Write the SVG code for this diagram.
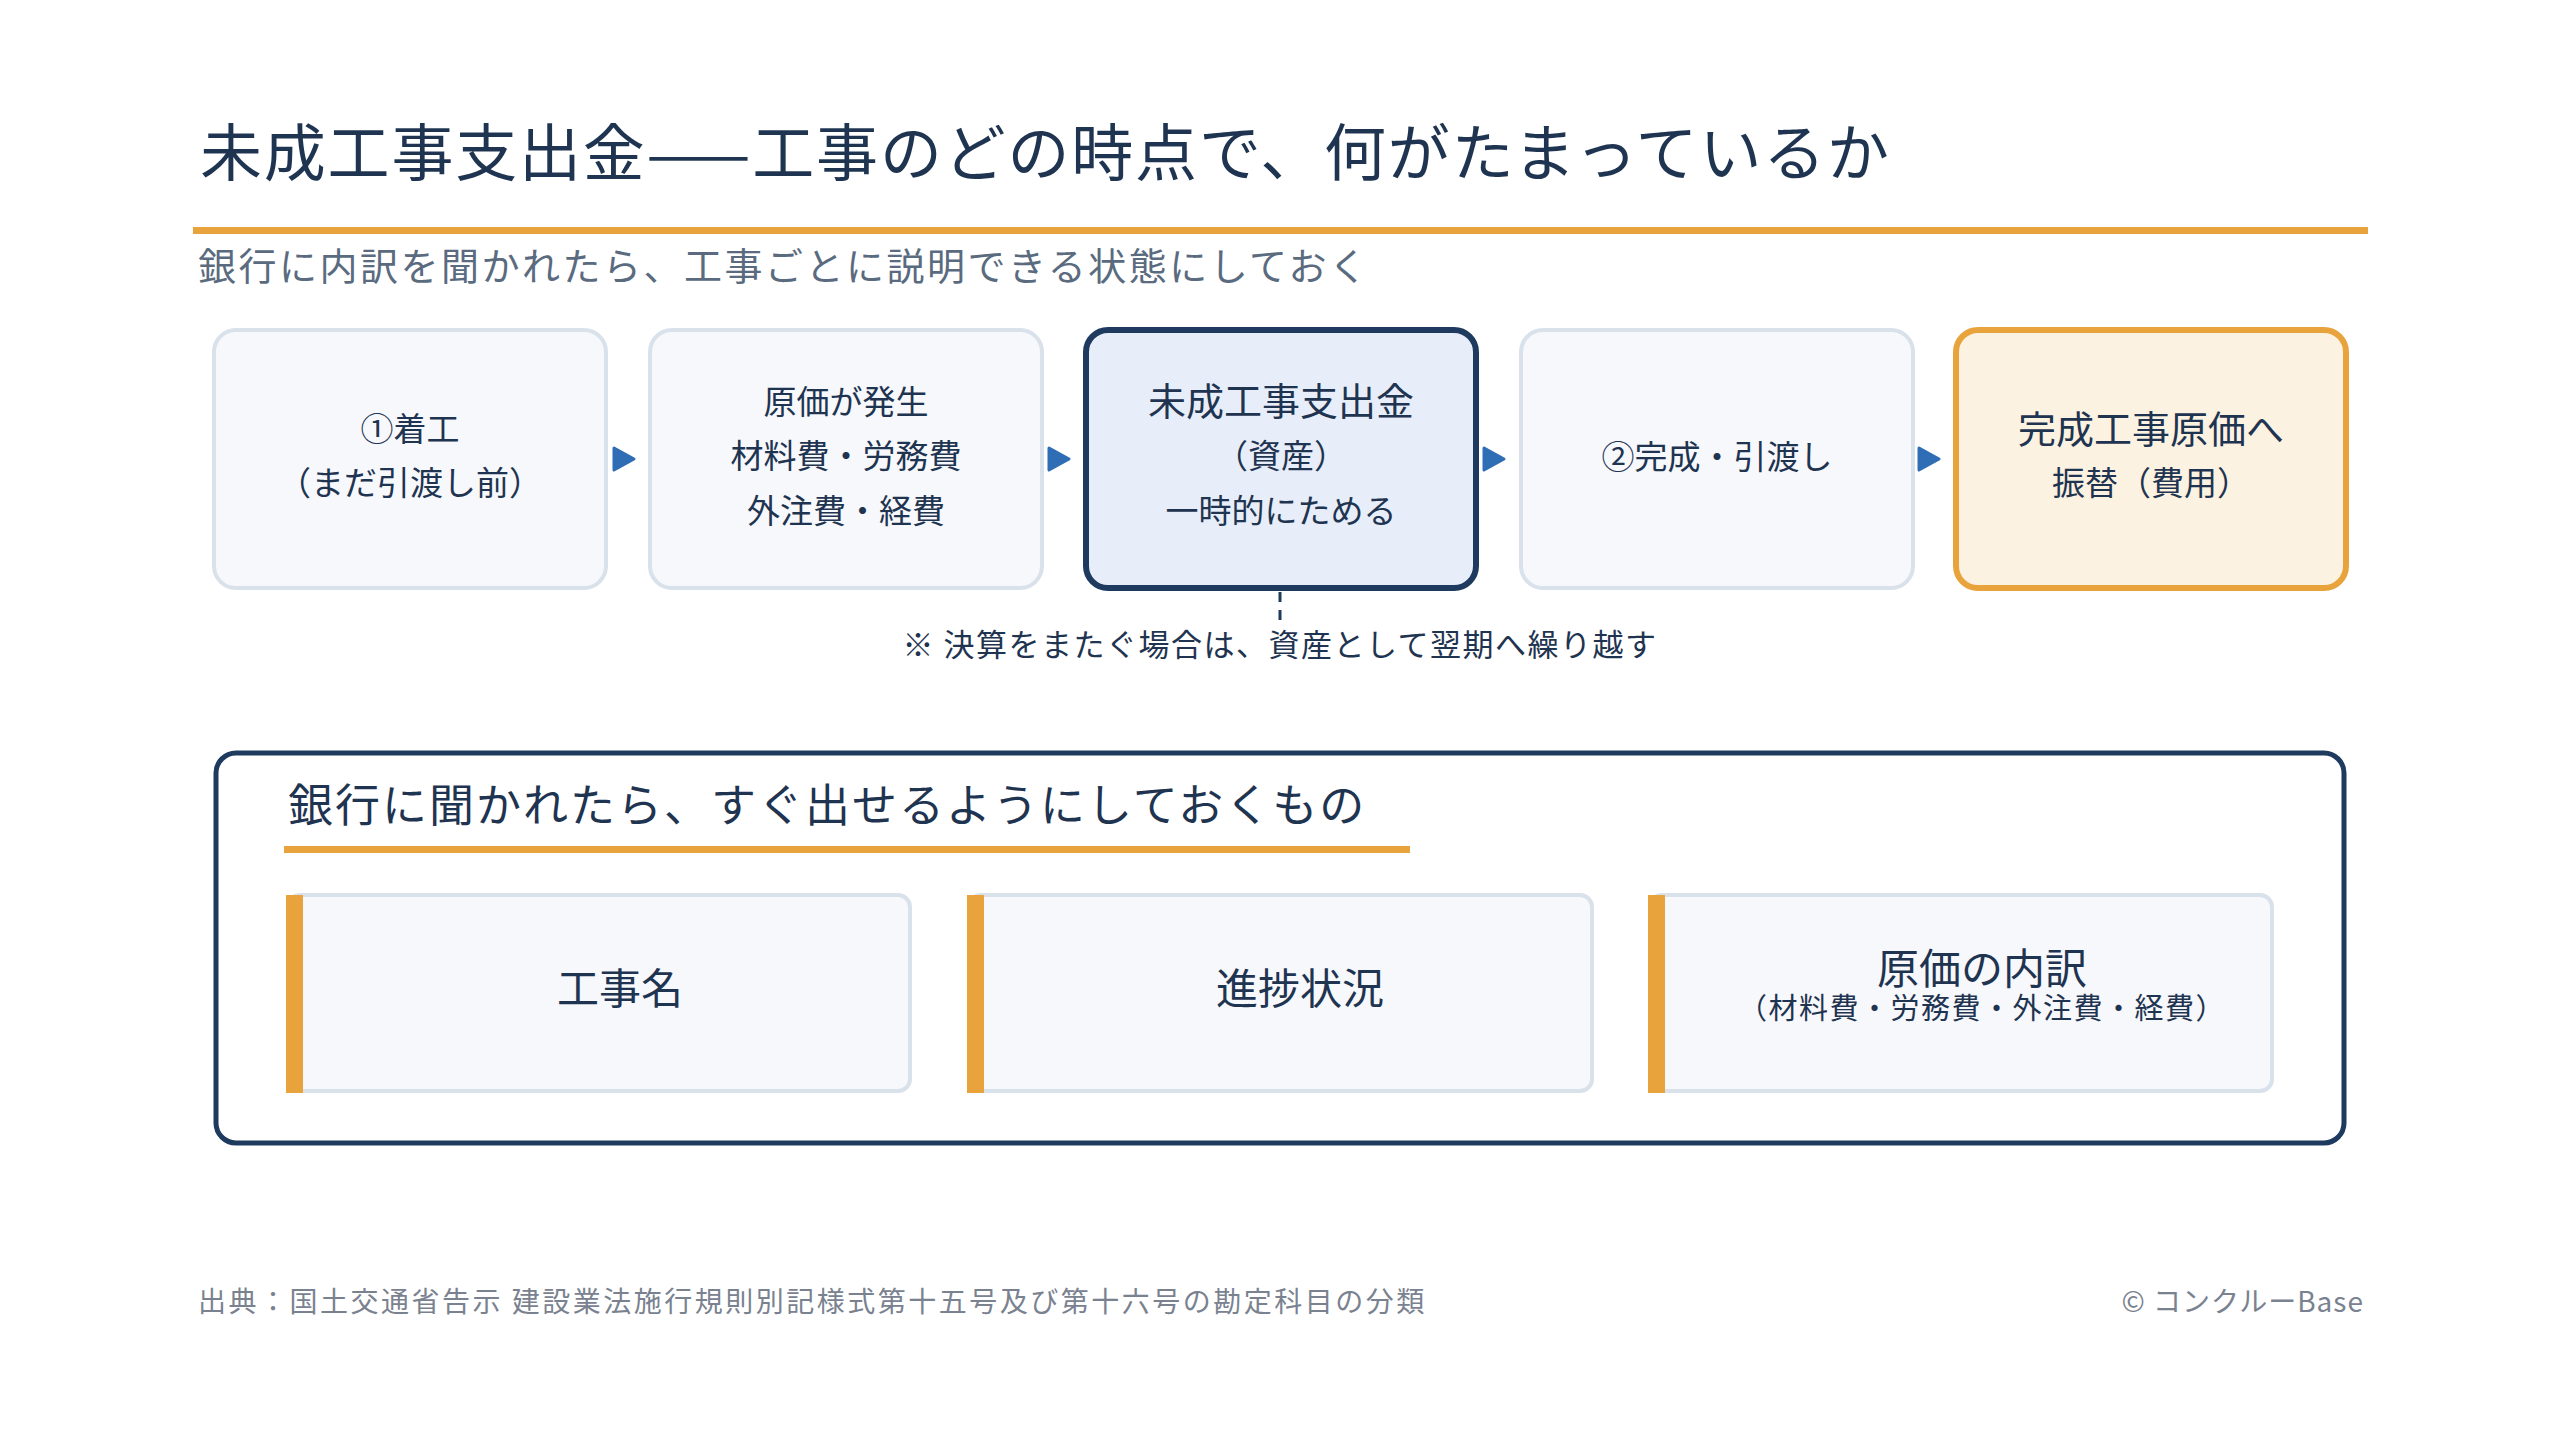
<svg xmlns="http://www.w3.org/2000/svg" width="2560" height="1440" viewBox="0 0 2560 1440">
<style>
text{font-family:"Noto Sans CJK JP","Noto Sans",sans-serif;fill:#1f3450}
.box{fill:#f6f8fc;stroke:#d9e1eb;stroke-width:4}
.bt{font-size:33px;text-anchor:middle}
.bt.big{font-size:38px}
.arrow{fill:#2f6db5;stroke:#2f6db5;stroke-width:3;stroke-linejoin:round}
.card{fill:#f6f8fc;stroke:#d9e1eb;stroke-width:4}
.bar{fill:#e8a33d}
.ct{font-size:42px;text-anchor:middle}
.foot{font-size:28px;fill:#7a8290}
</style>
<rect width="2560" height="1440" fill="#ffffff"/>
<text x="200" y="176" font-size="62" letter-spacing="1.8">未成工事支出金——工事のどの時点で、何がたまっているか</text>
<rect x="193" y="227" width="2175" height="7" fill="#e8a33d"/>
<text x="198" y="280" font-size="38" letter-spacing="2.5" style="fill:#5a6b80">銀行に内訳を聞かれたら、工事ごとに説明できる状態にしておく</text>

<g id="connectors">
<polygon class="arrow" points="614,448 634,459 614,470"/>
<polygon class="arrow" points="1049,448 1069,459 1049,470"/>
<polygon class="arrow" points="1484,448 1504,459 1484,470"/>
<polygon class="arrow" points="1919,448 1939,459 1919,470"/>
<line x1="1280" y1="592" x2="1280" y2="628" stroke="#1f3a5f" stroke-width="3" stroke-dasharray="10,8"/>
</g>

<g id="n1"><rect class="box" x="214" y="330" width="392" height="258" rx="22"/>
<text class="bt" x="410" y="441">①着工</text><text class="bt" x="410" y="495">（まだ引渡し前）</text></g>
<g id="n2"><rect class="box" x="650" y="330" width="392" height="258" rx="22"/>
<text class="bt" x="846" y="414">原価が発生</text><text class="bt" x="846" y="468">材料費・労務費</text><text class="bt" x="846" y="523">外注費・経費</text></g>
<g id="n3"><rect x="1086" y="330" width="390" height="258" rx="22" fill="#e7eef9" stroke="#1f3a5f" stroke-width="6"/>
<text class="bt big" x="1281" y="415">未成工事支出金</text><text class="bt" x="1281" y="468">（資産）</text><text class="bt" x="1281" y="523">一時的にためる</text></g>
<g id="n4"><rect class="box" x="1521" y="330" width="392" height="258" rx="22"/>
<text class="bt" x="1717" y="469">②完成・引渡し</text></g>
<g id="n5"><rect x="1956" y="330" width="390" height="258" rx="22" fill="#fcf2e1" stroke="#e8a33d" stroke-width="6"/>
<text class="bt big" x="2151" y="443">完成工事原価へ</text><text class="bt" x="2151" y="495">振替（費用）</text></g>

<g id="note"><text x="1280" y="656" font-size="31" text-anchor="middle" letter-spacing="1.5">※ 決算をまたぐ場合は、資産として翌期へ繰り越す</text></g>

<g id="panel">
<rect x="216" y="753" width="2128" height="390" rx="20" fill="#ffffff" stroke="#1f3a5f" stroke-width="5"/>
<text x="288" y="822" font-size="45" letter-spacing="2">銀行に聞かれたら、すぐ出せるようにしておくもの</text>
<rect x="284" y="846" width="1126" height="7" fill="#e8a33d"/>
</g>
<g id="c1"><rect class="card" x="288" y="895" width="622" height="196" rx="12"/><rect class="bar" x="286" y="895" width="17" height="198"/>
<text class="ct" x="620" y="1004">工事名</text></g>
<g id="c2"><rect class="card" x="969" y="895" width="623" height="196" rx="12"/><rect class="bar" x="967" y="895" width="17" height="198"/>
<text class="ct" x="1300" y="1004">進捗状況</text></g>
<g id="c3"><rect class="card" x="1650" y="895" width="622" height="196" rx="12"/><rect class="bar" x="1648" y="895" width="17" height="198"/>
<text class="ct" x="1982" y="984">原価の内訳</text><text x="1982" y="1019" font-size="29" text-anchor="middle" letter-spacing="1.5">（材料費・労務費・外注費・経費）</text></g>

<text class="foot" x="198" y="1312" letter-spacing="2.5">出典：国土交通省告示 建設業法施行規則別記様式第十五号及び第十六号の勘定科目の分類</text>
<text class="foot" x="2364" y="1312" text-anchor="end" letter-spacing="1">© コンクルーBase</text>
</svg>
